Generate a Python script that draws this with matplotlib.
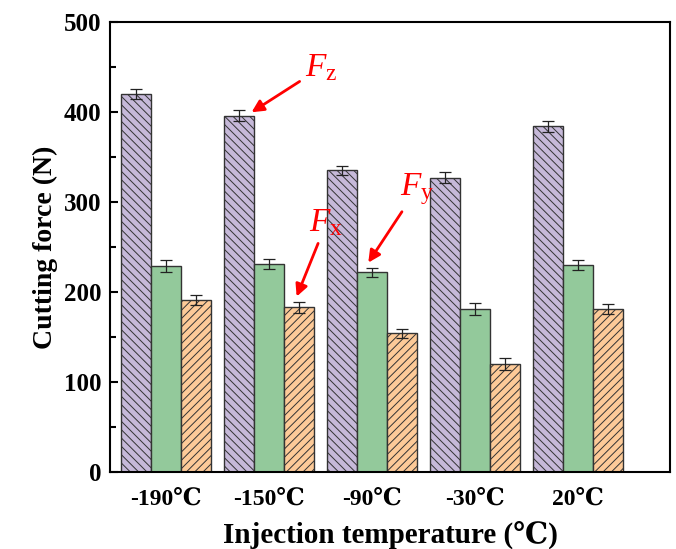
import numpy as np
import matplotlib.pyplot as plt

plt.rcParams['font.family'] = ['Liberation Serif', 'DejaVu Serif']
plt.rcParams['hatch.linewidth'] = 0.7
plt.rcParams['mathtext.fontset'] = 'custom'
plt.rcParams['mathtext.it'] = 'Liberation Serif:italic'
plt.rcParams['mathtext.rm'] = 'Liberation Serif'

temps = ['-190℃', '-150℃', '-90℃', '-30℃', '20℃']
fz = [420, 396, 335, 327, 384]
fy = [229, 231, 222, 181, 230]
fx = [191, 183, 154, 120, 181]
fz_err = [6, 6, 5, 6, 6]
fy_err = [7, 6, 5, 7, 6]
fx_err = [6, 6, 5, 7, 6]

x = np.arange(len(temps))
w = 0.29

fig = plt.figure(figsize=(6.76, 5.49), dpi=100)
ax = fig.add_axes([0.1627, 0.1403, 0.8283, 0.8197])

ek = dict(ecolor='#222222', elinewidth=0.9, capsize=4, capthick=0.9)
ax.bar(x - w, fz, w, yerr=fz_err, color='#c6b9d9', edgecolor='#333333',
       linewidth=1, hatch='\\\\\\\\', error_kw=ek)
ax.bar(x, fy, w, yerr=fy_err, color='#93c99b', edgecolor='#333333',
       linewidth=1, error_kw=ek)
ax.bar(x + w, fx, w, yerr=fx_err, color='#fdca98', edgecolor='#333333',
       linewidth=1, hatch='////', error_kw=ek)

ax.set_xlim(-0.54, 4.89)
ax.set_ylim(0, 500)
ax.set_xticks(x)
ax.set_xticklabels(temps, fontsize=17, fontweight='bold')
ax.set_yticks([0, 100, 200, 300, 400, 500])
ax.set_yticks(np.arange(50, 500, 100), minor=True)
ax.tick_params(axis='y', which='major', direction='in', length=6, width=1.5,
               labelsize=18, right=False, pad=6)
ax.tick_params(axis='y', which='minor', direction='in', length=4, width=1.5)
ax.tick_params(axis='x', length=0, pad=12)
for lab in ax.get_yticklabels():
    lab.set_fontweight('bold')
for s in ax.spines.values():
    s.set_linewidth(1.5)

ax.set_xlabel('Injection temperature (℃)', fontsize=21, fontweight='bold', labelpad=8)
ax.set_ylabel('Cutting force (N)', fontsize=20, fontweight='bold', labelpad=4)

# force labels with arrows
arr = dict(arrowstyle='-|>', color='red', lw=2, mutation_scale=18)
tk = dict(textcoords='offset points', color='red', fontsize=24,
          arrowprops=arr, va='bottom', ha='left')
ax.annotate('$F_{\\mathrm{z}}$', xy=(1 - w + 0.1, fz[1] + 2), xytext=(40, 22), **tk)
ax.annotate('$F_{\\mathrm{x}}$', xy=(1 + w - 0.03, fx[1] + fx_err[1] + 3),
            xytext=(10, 44), **tk)
ax.annotate('$F_{\\mathrm{y}}$', xy=(2 - 0.05, fy[2] + fy_err[2] + 3),
            xytext=(24, 42), **tk)

fig.savefig('out.png', dpi=100)
